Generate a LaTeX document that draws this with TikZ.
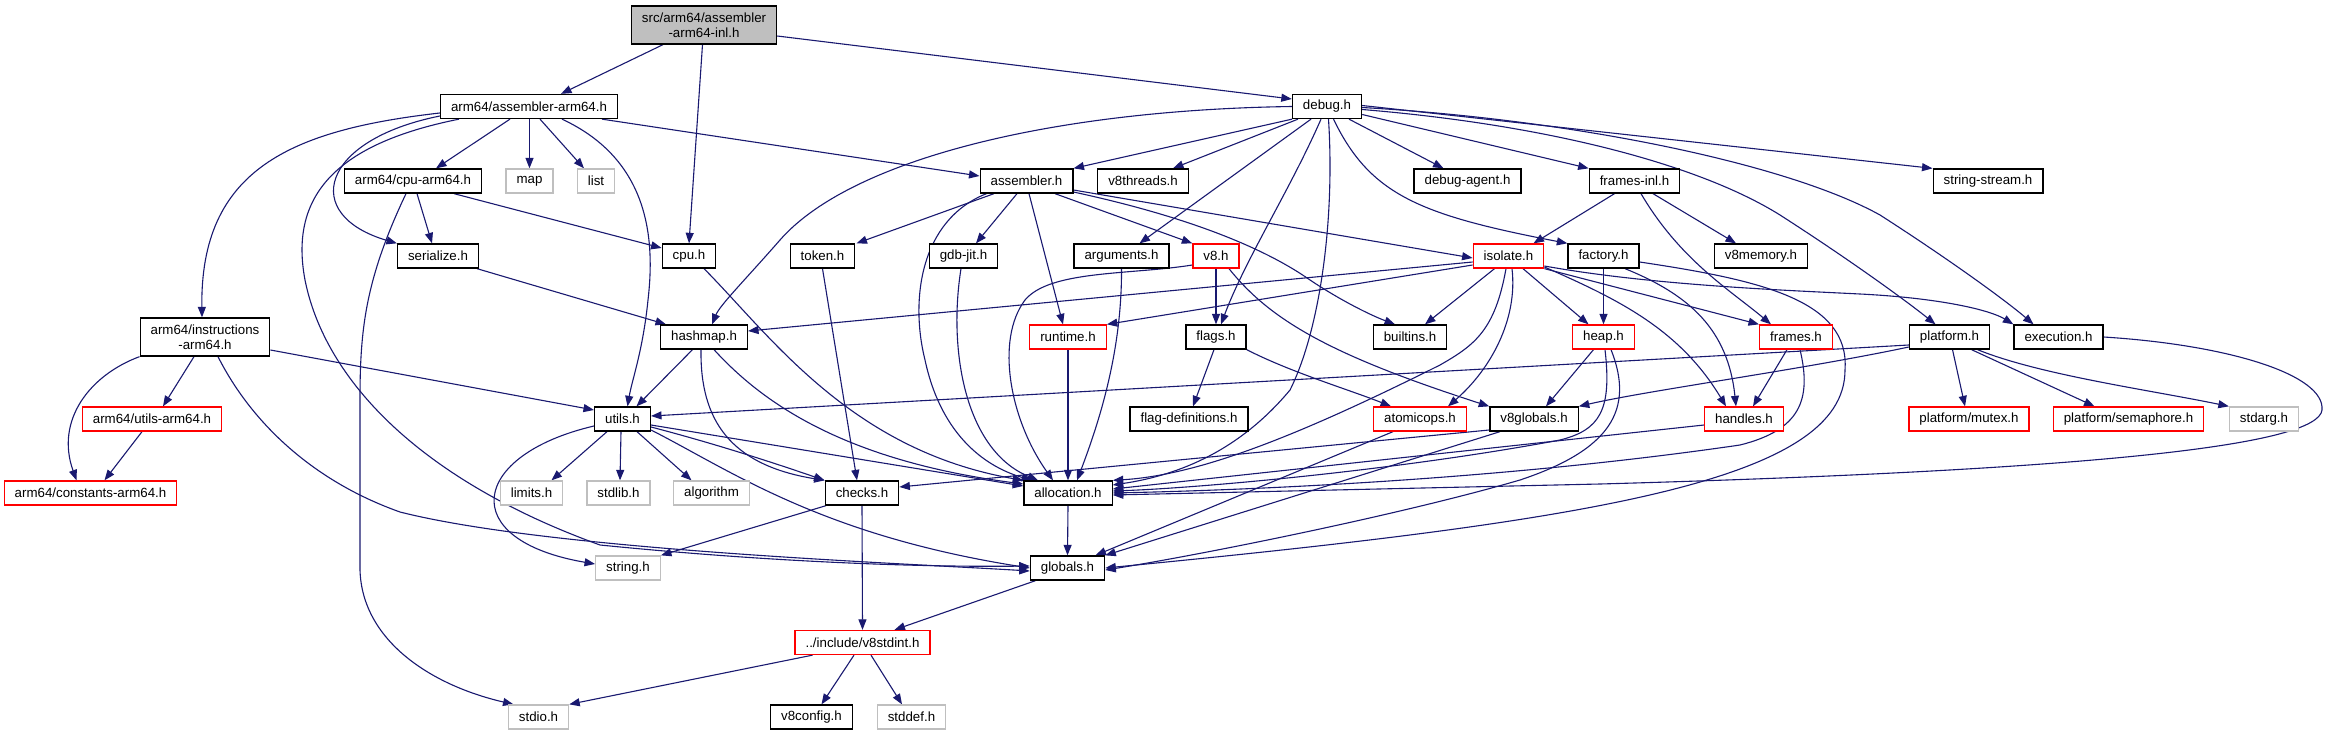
\documentclass[tikz,border=0pt]{standalone}
\usepackage{fontspec}
\setmainfont{Liberation Sans}
\usetikzlibrary{arrows.meta}
\definecolor{edgeblue}{RGB}{25,25,112}
\definecolor{sysgray}{RGB}{191,191,191}
\definecolor{trunc}{RGB}{255,0,0}
\pgfdeclarelayer{bglayer}
\pgfdeclarelayer{edgelayer}
\pgfsetlayers{bglayer,edgelayer,main}
\begin{document}
\begin{tikzpicture}[x=1pt,y=-1pt,
 hbox/.style={draw=black, line width=1.3pt, inner xsep=10.5pt, inner ysep=4pt, minimum height=24pt, fill=white, align=center, font=\fontsize{13.3}{15}\selectfont},
 redbox/.style={hbox, draw=trunc},
 graybox/.style={hbox, draw=sysgray},
 rootbox/.style={hbox, fill=sysgray},
 twoline/.style={minimum height=38pt},
 edge/.style={draw=edgeblue, line width=1.1pt, -{Triangle[length=10.5pt,width=8pt]}}]
\useasboundingbox (0,0) rectangle (2329,736);
\begin{pgfonlayer}{bglayer}
\fill[white] (0,0) rectangle (2329,736);
\end{pgfonlayer}

\node[rootbox,twoline] (root) at (704,25) {src/arm64/assembler\\-arm64-inl.h};
\node[hbox] (aa64) at (529,106.5) {arm64/assembler-arm64.h};
\node[hbox] (debug) at (1327,106.5) {debug.h};
\node[hbox] (cpua64) at (413,181) {arm64/cpu-arm64.h};
\node[graybox] (map) at (529.5,181) {map};
\node[graybox] (list) at (596,181) {list};
\node[hbox] (asm) at (1026.5,181) {assembler.h};
\node[hbox] (v8threads) at (1143,181) {v8threads.h};
\node[hbox] (dagent) at (1467.5,181) {debug-agent.h};
\node[hbox] (framesinl) at (1634.5,181) {frames-inl.h};
\node[hbox] (sstream) at (1988,181) {string-stream.h};
\node[hbox] (serialize) at (438,256) {serialize.h};
\node[hbox] (cpu) at (689,256) {cpu.h};
\node[hbox] (token) at (822.5,256) {token.h};
\node[hbox] (gdbjit) at (963.5,256) {gdb-jit.h};
\node[hbox] (arguments) at (1121.5,256) {arguments.h};
\node[redbox] (v8) at (1216,256) {v8.h};
\node[redbox] (isolate) at (1508.5,256) {isolate.h};
\node[hbox] (factory) at (1603.5,256) {factory.h};
\node[hbox] (v8memory) at (1761,256) {v8memory.h};
\node[hbox,twoline] (instr) at (205,337) {arm64/instructions\\-arm64.h};
\node[hbox] (hashmap) at (704,337) {hashmap.h};
\node[redbox] (runtime) at (1068,337) {runtime.h};
\node[hbox] (flags) at (1216,337) {flags.h};
\node[hbox] (builtins) at (1410,337) {builtins.h};
\node[redbox] (heap) at (1603.5,337) {heap.h};
\node[redbox] (frames) at (1796,337) {frames.h};
\node[hbox] (platform) at (1949.5,337) {platform.h};
\node[hbox] (execution) at (2058.5,337) {execution.h};
\node[redbox] (utilsa64) at (152,419) {arm64/utils-arm64.h};
\node[hbox] (utils) at (622.5,419) {utils.h};
\node[hbox] (flagdef) at (1189,419) {flag-definitions.h};
\node[redbox] (atomicops) at (1420,419) {atomicops.h};
\node[hbox] (v8globals) at (1534,419) {v8globals.h};
\node[redbox] (handles) at (1744,419) {handles.h};
\node[redbox] (mutex) at (1969,419) {platform/mutex.h};
\node[redbox] (semaphore) at (2128.5,419) {platform/semaphore.h};
\node[graybox] (stdarg) at (2264,419) {stdarg.h};
\node[redbox] (constants) at (90.5,493) {arm64/constants-arm64.h};
\node[graybox] (limits) at (531.5,493) {limits.h};
\node[graybox] (stdlib) at (618.5,493) {stdlib.h};
\node[graybox] (algorithm) at (711.5,493) {algorithm};
\node[hbox] (checks) at (862,493) {checks.h};
\node[hbox] (allocation) at (1068,493) {allocation.h};
\node[graybox] (stringh) at (628,568) {string.h};
\node[hbox] (globals) at (1067.5,568) {globals.h};
\node[redbox] (v8stdint) at (862.5,642.5) {../include/v8stdint.h};
\node[graybox] (stdio) at (538.5,717) {stdio.h};
\node[hbox] (v8config) at (811.5,717) {v8config.h};
\node[graybox] (stddef) at (911.5,717) {stddef.h};

\begin{pgfonlayer}{edgelayer}
% root
\path[edge] ([xshift=-41]root.south) -- ([xshift=32]aa64.north);
\path[edge] ([xshift=-1.5]root.south) -- (cpu.north);
\path[edge] ([yshift=-11]root.east) -- ([yshift=7.5]debug.west);
% assembler-arm64.h
\path[edge] ([yshift=-6.5]aa64.west) .. controls (290,130) and (200,170) .. ([xshift=-3]instr.north);
\path[edge] ([yshift=-9.5]aa64.west) .. controls (320,140) and (300,215) .. (serialize.north west);
\path[edge] ([xshift=-70]aa64.south) .. controls (330,145) and (290,200) .. (305,280) .. controls (325,380) and (420,480) .. (600,545) .. controls (800,565) and (950,567) .. ([yshift=2]globals.west);
\path[edge] ([xshift=-19]aa64.south) -- ([xshift=23]cpua64.north);
\path[edge] ([xshift=0.5]aa64.south) -- (map.north);
\path[edge] ([xshift=11]aa64.south) -- ([xshift=-12]list.north);
\path[edge] ([xshift=33]aa64.south) .. controls (650,160) and (655,240) .. (648,300) .. controls (643,350) and (632,380) .. ([xshift=5]utils.north);
\path[edge] ([xshift=73]aa64.south) -- ([yshift=5]asm.west);
% instructions
\path[edge] (instr.south west) .. controls (90,375) and (55,420) .. ([xshift=-14]constants.north);
\path[edge] ([xshift=-11]instr.south) -- ([xshift=11]utilsa64.north);
\path[edge] ([yshift=-13]instr.east) -- ([yshift=9]utils.west);
\path[edge] ([xshift=13]instr.south) .. controls (250,420) and (310,480) .. (400,512) .. controls (550,550) and (900,563) .. ([yshift=-3]globals.west);
\path[edge] ([xshift=-10]utilsa64.south) -- ([xshift=14]constants.north);
% cpu-arm64
\path[edge] ([xshift=4]cpua64.south) -- ([xshift=-6]serialize.north);
\path[edge] ([xshift=41]cpua64.south) -- ([yshift=8]cpu.west);
\path[edge] ([xshift=-7]cpua64.south) .. controls (365,280) and (360,330) .. (360,400) -- (360,570) .. controls (362,640) and (430,685) .. ([xshift=-25]stdio.north);
\path[edge] ([xshift=39]serialize.south) -- ([xshift=-38]hashmap.north);
\path[edge] ([xshift=15]cpu.south) .. controls (770,335) and (850,450) .. (allocation.north west);
% hashmap
\path[edge] ([xshift=-11.5]hashmap.south) -- ([xshift=14]utils.north);
\path[edge] ([xshift=-3]hashmap.south) .. controls (700,420) and (730,465) .. (checks.north west);
\path[edge] ([xshift=10]hashmap.south) .. controls (760,400) and (840,460) .. ([yshift=9]allocation.west);
% utils
\path[edge] ([xshift=-15.5]utils.south) -- ([xshift=20]limits.north);
\path[edge] ([xshift=-1.5]utils.south) -- ([xshift=1.5]stdlib.north);
\path[edge] ([xshift=14.5]utils.south) -- ([xshift=-20]algorithm.north);
\path[edge] ([yshift=-7]utils.west) .. controls (470,455) and (455,540) .. ([yshift=4]stringh.west);
\path[edge] ([yshift=-8]utils.east) .. controls (720,445) and (780,465) .. (checks.north west);
\path[edge] ([yshift=-6]utils.east) -- ([yshift=7]allocation.west);
\path[edge] ([yshift=-11]utils.east) .. controls (730,470) and (820,535) .. (globals.west);
% checks, allocation, globals, v8stdint
\path[edge] ([xshift=-36]checks.south) -- (stringh.north east);
\path[edge] (checks.south) -- (v8stdint.north);
\path[edge] (allocation.south) -- (globals.north);
\path[edge] ([xshift=-32]globals.south) -- ([xshift=32]v8stdint.north);
\path[edge] ([xshift=-50]v8stdint.south) -- (stdio.north east);
\path[edge] ([xshift=-8.5]v8stdint.south) -- ([xshift=10]v8config.north);
\path[edge] ([xshift=8.5]v8stdint.south) -- ([xshift=-9.5]stddef.north);
% debug
\path[edge] (debug.west) .. controls (1050,110) and (850,160) .. (780,240) .. controls (745,280) and (720,305) .. ([xshift=8]hashmap.north);
\path[edge] ([xshift=-35]debug.south) -- (asm.north east);
\path[edge] ([xshift=-29]debug.south) -- ([xshift=30]v8threads.north);
\path[edge] ([xshift=-16]debug.south) -- ([xshift=18]arguments.north);
\path[edge] ([xshift=-6]debug.south) .. controls (1290,190) and (1245,260) .. ([xshift=5]flags.north);
\path[edge] ([xshift=1.5]debug.south) .. controls (1335,220) and (1320,330) .. (1290,390) .. controls (1240,450) and (1180,475) .. ([yshift=8]allocation.east);
\path[edge] ([xshift=22]debug.south) -- ([xshift=-24]dagent.north);
\path[edge] ([xshift=6.5]debug.south) .. controls (1370,195) and (1420,215) .. (factory.north west);
\path[edge] ([yshift=-8]debug.east) -- (framesinl.north west);
\path[edge] ([yshift=1]debug.east) -- (sstream.north west);
\path[edge] ([yshift=-3]debug.east) .. controls (1550,125) and (1700,165) .. (1780,215) .. controls (1850,260) and (1905,300) .. ([xshift=-14]platform.north);
\path[edge] ([yshift=-1]debug.east) .. controls (1580,120) and (1790,165) .. (1880,215) .. controls (1950,260) and (2005,300) .. ([xshift=-25]execution.north);
% assembler.h
\path[edge] ([xshift=-32.5]asm.south) -- ([xshift=34]token.north);
\path[edge] ([xshift=-9.5]asm.south) -- ([xshift=12.5]gdbjit.north);
\path[edge] ([xshift=2.5]asm.south) -- ([xshift=-5]runtime.north);
\path[edge] ([xshift=28.5]asm.south) -- (v8.north west);
\path[edge] ([yshift=-9]asm.east) -- ([yshift=-2]isolate.west);
\path[edge] ([yshift=-11]asm.east) .. controls (1180,215) and (1260,245) .. (1310,280) .. controls (1340,300) and (1370,315) .. ([xshift=-15]builtins.north);
\path[edge] ([xshift=-40]asm.south) .. controls (920,220) and (910,300) .. (925,360) .. controls (940,430) and (980,465) .. ([xshift=-36]allocation.north);
% row 3 to allocation etc.
\path[edge] (token.south) -- ([xshift=-5]checks.north);
\path[edge] ([xshift=-2.5]gdbjit.south) .. controls (948,350) and (965,450) .. ([xshift=-30]allocation.north);
\path[edge] (arguments.south) .. controls (1122,350) and (1100,420) .. ([xshift=9]allocation.north);
\path[edge] (runtime.south) -- (allocation.north);
\path[edge] (v8.south) -- (flags.north);
\path[edge] ([yshift=-9]v8.west) .. controls (1130,275) and (1050,270) .. (1025,300) .. controls (995,340) and (1010,420) .. ([xshift=-15]allocation.north);
\path[edge] ([xshift=13]v8.south) .. controls (1270,320) and (1330,355) .. (v8globals.north west);
% isolate
\path[edge] ([yshift=-6]isolate.west) -- ([yshift=6]hashmap.east);
\path[edge] ([yshift=-9]isolate.west) -- (runtime.north east);
\path[edge] ([xshift=-14]isolate.south) -- ([xshift=15]builtins.north);
\path[edge] ([xshift=3.5]isolate.south) .. controls (1518,320) and (1490,370) .. ([xshift=28]atomicops.north);
\path[edge] ([xshift=-2.5]isolate.south) .. controls (1495,330) and (1475,345) .. (1440,365) .. controls (1300,435) and (1200,475) .. (allocation.north east);
\path[edge] ([xshift=14.5]isolate.south) -- ([xshift=-15]heap.north);
\path[edge] (isolate.south east) -- (frames.north west);
\path[edge] ([yshift=-11]isolate.east) .. controls (1620,300) and (1680,330) .. ([xshift=-18]handles.north);
\path[edge] ([yshift=-10]isolate.east) .. controls (1650,285) and (1780,290) .. (1860,294) .. controls (1940,298) and (1990,310) .. (execution.north west);
% frames-inl, factory
\path[edge] ([xshift=-20]framesinl.south) -- ([xshift=25]isolate.north);
\path[edge] ([xshift=6.5]framesinl.south) .. controls (1680,260) and (1730,290) .. ([xshift=-25]frames.north);
\path[edge] ([xshift=18.5]framesinl.south) -- ([xshift=-25]v8memory.north);
\path[edge] (factory.south) -- (heap.north);
\path[edge] ([xshift=21.5]factory.south) .. controls (1690,295) and (1728,330) .. ([xshift=-8]handles.north);
\path[edge] ([yshift=-6]factory.east) .. controls (1760,280) and (1850,300) .. (1845,370) .. controls (1845,480) and (1600,520) .. (globals.east);
% heap, frames, handles
\path[edge] ([xshift=-10]heap.south) -- ([xshift=12]v8globals.north);
\path[edge] ([xshift=1.5]heap.south) .. controls (1612,410) and (1600,430) .. (1560,440) .. controls (1400,470) and (1200,488) .. ([yshift=2]allocation.east);
\path[edge] ([xshift=7.5]heap.south) .. controls (1635,410) and (1610,450) .. (1520,480) .. controls (1400,515) and (1200,555) .. ([yshift=-2]globals.east);
\path[edge] ([xshift=-9]frames.south) -- ([xshift=9]handles.north);
\path[edge] ([xshift=4]frames.south) .. controls (1812,400) and (1800,430) .. (1740,445) .. controls (1500,480) and (1250,490) .. (allocation.east);
\path[edge] ([yshift=-6]handles.west) -- ([yshift=4]allocation.east);
\path[edge] (execution.east) .. controls (2230,345) and (2325,375) .. (2322,410) .. controls (2318,445) and (2100,470) .. (1600,484) -- ([yshift=-2]allocation.east);
% atomicops, v8globals, flags
\path[edge] ([xshift=-27]atomicops.south) -- ([xshift=28]globals.north);
\path[edge] ([xshift=-34]v8globals.south) -- (globals.north east);
\path[edge] ([yshift=-11]v8globals.west) -- ([yshift=6]checks.east);
\path[edge] ([xshift=-2]flags.south) -- ([xshift=4]flagdef.north);
\path[edge] (flags.south east) .. controls (1290,372) and (1350,390) .. ([xshift=-29]atomicops.north);
% platform
\path[edge] ([yshift=-8]platform.west) -- ([yshift=3]utils.east);
\path[edge] ([yshift=-10]platform.west) .. controls (1800,370) and (1650,390) .. (v8globals.north east);
\path[edge] ([xshift=3]platform.south) -- ([xshift=-4]mutex.north);
\path[edge] ([xshift=22]platform.south) -- ([xshift=-34]semaphore.north);
\path[edge] ([xshift=28]platform.south) .. controls (2040,375) and (2150,390) .. (stdarg.north west);
\end{pgfonlayer}
\end{tikzpicture}
\end{document}
